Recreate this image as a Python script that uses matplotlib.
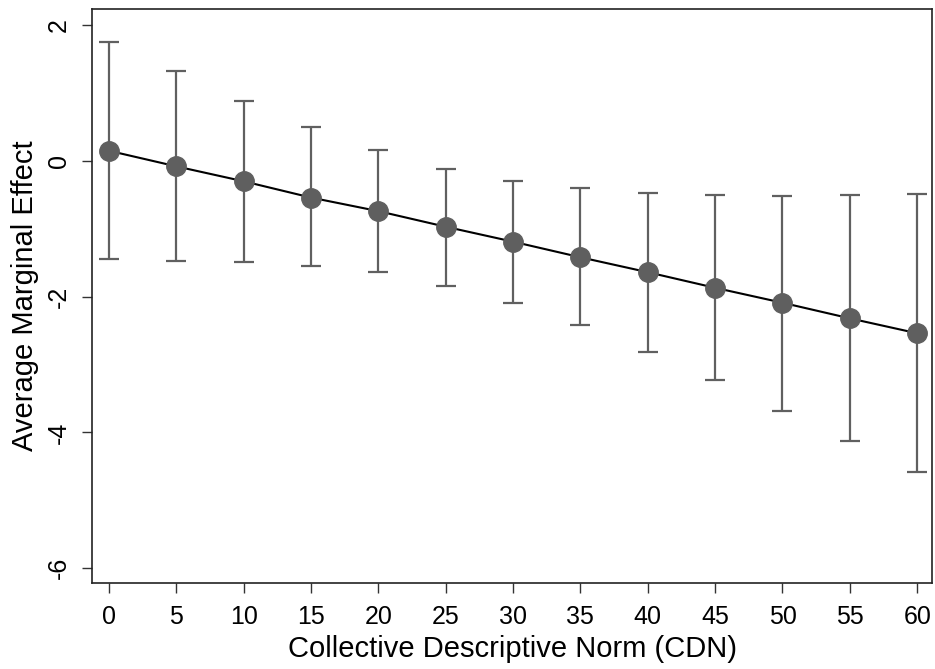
import matplotlib
matplotlib.use("Agg")
import matplotlib.pyplot as plt

plt.rcParams['font.family'] = ['Liberation Sans', 'DejaVu Sans']

cdn = [0, 5, 10, 15, 20, 25, 30, 35, 40, 45, 50, 55, 60]
ame = [0.15, -0.08, -0.30, -0.54, -0.74, -0.97, -1.19, -1.42, -1.64, -1.87, -2.09, -2.32, -2.54]
upper = [1.75, 1.33, 0.89, 0.50, 0.16, -0.12, -0.30, -0.40, -0.47, -0.50, -0.52, -0.50, -0.48]
lower = [-1.45, -1.47, -1.49, -1.55, -1.64, -1.84, -2.09, -2.42, -2.82, -3.23, -3.68, -4.13, -4.59]

err_lo = [m - l for m, l in zip(ame, lower)]
err_hi = [u - m for m, u in zip(ame, upper)]

fig = plt.figure(figsize=(9.35, 6.69), dpi=100)
ax = fig.add_axes([0.0984, 0.1286, 0.8984, 0.858])

ax.errorbar(cdn, ame, yerr=[err_lo, err_hi], fmt='none', ecolor='#606060',
            elinewidth=1.6, capsize=7, capthick=1.6, zorder=1)
ax.plot(cdn, ame, color='black', lw=1.5, zorder=2)
ax.plot(cdn, ame, 'o', color='#5f5f5f', markersize=14, zorder=3)

ax.set_xlim(-1.26, 61.1)
ax.set_ylim(-6.22, 2.24)
ax.set_xticks(cdn)
ax.set_yticks([-6, -4, -2, 0, 2])
ax.set_yticklabels(['-6', '-4', '-2', '0', '2'], rotation=90, va='center')
ax.tick_params(labelsize=18, length=7, width=1, color='#333333')
ax.tick_params(axis='x', pad=9)
ax.tick_params(axis='y', pad=8)
ax.set_xlabel('Collective Descriptive Norm (CDN)', fontsize=21)
ax.xaxis.set_label_coords(0.5, -0.09)
ax.set_ylabel('Average Marginal Effect', fontsize=21)
ax.yaxis.set_label_coords(-0.063, 0.5)
for s in ax.spines.values():
    s.set_color('#222222')
    s.set_linewidth(1.2)

fig.savefig('out.png', dpi=100)
